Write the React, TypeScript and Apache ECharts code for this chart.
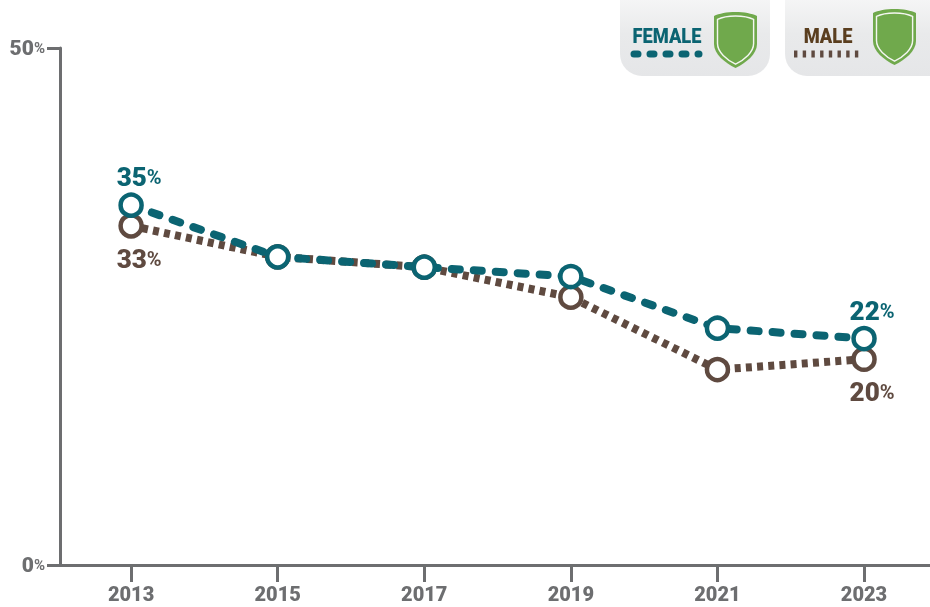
import React, { useEffect, useRef } from "react";
import * as echarts from "echarts";

const years = [2013, 2015, 2017, 2019, 2021, 2023];
const female = [34.8, 29.8, 28.8, 27.9, 22.9, 21.9];
const male = [32.8, 29.8, 28.8, 25.9, 18.9, 19.9];
const femaleLabels: Record<number, string> = { 0: "35", 5: "22" };
const maleLabels: Record<number, string> = { 0: "33", 5: "20" };
const yTicks = [0, 50];

const TEAL = "#0b6472";
const BROWN = "#5f4a40";
const LEGEND_BROWN = "#5a3e1f";
const GREY = "#6d6e70";
const GREEN = "#70a94c";
const FONT = "Roboto, sans-serif";

const SHIELD = "M21.5 0C30 0 38 1.5 43 4L43 32C43 42 32 51 21.5 56C11 51 0 42 0 32L0 4C5 1.5 13 0 21.5 0Z";
echarts.graphic.registerShape("shield", (echarts.graphic as any).extendPath(SHIELD, {}));

const shield = (x: number, y: number) => [
  { type: "shield", x, y, style: { fill: GREEN } },
  {
    type: "shield",
    x: x + 3.5,
    y: y + 4,
    scaleX: 0.84,
    scaleY: 0.86,
    style: { fill: GREEN, stroke: "#f4f6f1", lineWidth: 1.7 },
  },
];

const panelFill = () =>
  new echarts.graphic.LinearGradient(0, 0, 0, 1, [
    { offset: 0, color: "#ffffff" },
    { offset: 0.6, color: "#e9eaeb" },
    { offset: 1, color: "#e5e6e8" },
  ]);

const seriesOf = (
  name: string,
  values: number[],
  labels: Record<number, string>,
  color: string,
  position: string,
  distance: number,
  lineStyle: any,
  z: number,
) => ({
  name,
  type: "line",
  data: values.map((v, i) => [years[i], v]),
  symbol: "circle",
  symbolSize: 21,
  showSymbol: true,
  itemStyle: { color: "#fff", borderColor: color, borderWidth: 4.5, opacity: 1 },
  lineStyle: { color, width: 8, ...lineStyle },
  label: {
    show: true,
    position,
    distance,
    offset: [8, 0],
    formatter: (p: any) => (labels[p.dataIndex] ? `{n|${labels[p.dataIndex]}}{p|%}` : ""),
    rich: {
      n: { fontFamily: FONT, fontWeight: 900, fontSize: 26, color, lineHeight: 30 },
      p: { fontFamily: FONT, fontWeight: "bold", fontSize: 20, color, lineHeight: 30 },
    },
  },
  emphasis: { disabled: true },
  z,
});

export default function App() {
  const ref = useRef<HTMLDivElement>(null);
  useEffect(() => {
    const chart = echarts.init(ref.current!, undefined, { renderer: "svg" });
    chart.setOption({
      animation: false,
      grid: { left: 60, right: 0, top: 48, bottom: 42 },
      xAxis: {
        type: "value",
        min: 2012.03,
        max: 2023.9,
        splitLine: { show: false },
        axisLine: { show: true, lineStyle: { color: GREY, width: 3 } },
        axisTick: { show: true, customValues: years, length: 17, lineStyle: { color: GREY, width: 3 } },
        axisLabel: {
          customValues: years,
          formatter: (v: number) => String(v),
          margin: 19,
          fontFamily: FONT,
          fontWeight: 900,
          fontSize: 20,
          color: GREY,
        },
      },
      yAxis: {
        type: "value",
        min: 0,
        max: 50,
        interval: 50,
        splitLine: { show: false },
        axisLine: { show: true, lineStyle: { color: GREY, width: 3 } },
        axisTick: { show: true, length: 13, lineStyle: { color: GREY, width: 3 } },
        axisLabel: {
          customValues: yTicks,
          margin: 15,
          formatter: (v: number) => `{n|${v}}{p|%}`,
          rich: {
            n: { fontFamily: FONT, fontWeight: 900, fontSize: 21, color: GREY },
            p: { fontFamily: FONT, fontWeight: "bold", fontSize: 15, color: GREY },
          },
        },
      },
      series: [
        seriesOf("Male", male, maleLabels, BROWN, "bottom", 5, { type: [6, 5.2], cap: "butt" }, 2),
        seriesOf("Female", female, femaleLabels, TEAL, "top", 0, { type: [8, 14], cap: "round" }, 3),
      ],
      graphic: [
        { type: "rect", shape: { x: 620, y: -30, width: 150, height: 106, r: 22 }, style: { fill: panelFill() } },
        { type: "rect", shape: { x: 785, y: -30, width: 175, height: 106, r: 22 }, style: { fill: panelFill() } },
        {
          type: "text",
          x: 667,
          y: 36,
          scaleX: 0.87,
          style: { text: "FEMALE", fill: TEAL, font: `900 21px ${FONT}`, align: "center", verticalAlign: "middle" },
        },
        {
          type: "line",
          shape: { x1: 634, y1: 54, x2: 699, y2: 54 },
          style: { stroke: TEAL, lineWidth: 7, lineCap: "round", lineDash: [4, 12] },
        },
        {
          type: "text",
          x: 828,
          y: 36,
          scaleX: 0.87,
          style: { text: "MALE", fill: LEGEND_BROWN, font: `900 21px ${FONT}`, align: "center", verticalAlign: "middle" },
        },
        {
          type: "line",
          shape: { x1: 794, y1: 54, x2: 860, y2: 54 },
          style: { stroke: BROWN, lineWidth: 7, lineCap: "butt", lineDash: [3.4, 5.3] },
        },
        ...shield(714, 12),
        ...shield(873, 9),
      ],
    });
    return () => chart.dispose();
  }, []);
  return <div ref={ref} style={{ position: "fixed", left: 0, top: 0, width: 930, height: 607 }} />;
}
